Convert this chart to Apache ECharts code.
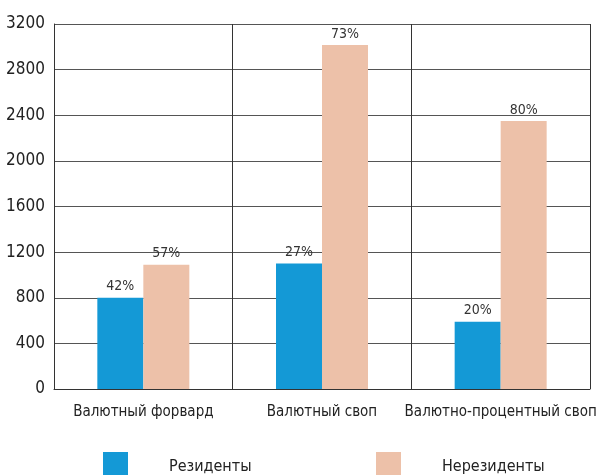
<!DOCTYPE html>
<html>
<head>
<meta charset="utf-8">
<script src="https://cdn.jsdelivr.net/npm/echarts@6/dist/echarts.min.js"></script>
<style>
  html, body { margin: 0; padding: 0; background: #fff; }
  #chart { width: 596px; height: 475px; }
</style>
</head>
<body>
<div id="chart"></div>
<script>
// Instrument categories on the x axis
const categories = ['Валютный форвард', 'Валютный своп', 'Валютно-процентный своп'];
// Operation volumes by counterparty type
const residents = [800, 1100, 590];
const nonResidents = [1090, 3015, 2350];
// Shares printed above the bars
const residentsShare = ['42%', '27%', '20%'];
const nonResidentsShare = ['57%', '73%', '80%'];
// Value axis ticks
const yMin = 0, yMax = 3200, yStep = 400;

const FONT = '"Liberation Sans Narrow", "DejaVu Sans Condensed", sans-serif';
const BLUE = '#1499d6';
const PINK = '#edc1a9';

const chart = echarts.init(document.getElementById('chart'), null, { renderer: 'canvas' });

const labelStyle = (shares) => ({
  show: true,
  position: 'top',
  distance: 4,
  fontFamily: FONT,
  fontSize: 14,
  color: '#333',
  formatter: (p) => shares[p.dataIndex]
});

const legendItem = (name, left) => ({
  data: [name],
  left: left, top: 452,
  padding: 0,
  itemWidth: 25, itemHeight: 30, icon: 'rect',
  textStyle: { fontFamily: FONT, fontSize: 16, color: '#222', padding: [0, 0, 0, 36] }
});

chart.setOption({
  animation: false,
  textStyle: { fontFamily: FONT },
  grid: { left: 54, right: 6, top: 24, bottom: 86, containLabel: false, outerBoundsMode: 'none' },
  legend: [legendItem('Резиденты', 103), legendItem('Нерезиденты', 376)],
  xAxis: {
    type: 'category',
    data: categories,
    axisLine: { show: true, lineStyle: { color: '#333', width: 1 } },
    axisTick: { show: false },
    axisLabel: { fontFamily: FONT, fontSize: 15, color: '#222', margin: 16, interval: 0, hideOverlap: false },
    splitLine: { show: true, lineStyle: { color: '#333', width: 1 } }
  },
  yAxis: {
    type: 'value',
    min: yMin, max: yMax, interval: yStep,
    axisLine: { show: true, lineStyle: { color: '#333', width: 1 } },
    axisTick: { show: false },
    axisLabel: { fontFamily: FONT, fontSize: 17, color: '#222', margin: 9, formatter: (v) => String(v) },
    splitLine: { show: true, lineStyle: { color: '#555', width: 1 } }
  },
  series: [
    {
      name: 'Резиденты',
      type: 'bar',
      data: residents,
      barWidth: 46,
      barGap: 0,
      itemStyle: { color: BLUE },
      label: labelStyle(residentsShare)
    },
    {
      name: 'Нерезиденты',
      type: 'bar',
      data: nonResidents,
      barWidth: 46,
      barGap: 0,
      itemStyle: { color: PINK },
      label: labelStyle(nonResidentsShare)
    }
  ]
});
</script>
</body>
</html>
